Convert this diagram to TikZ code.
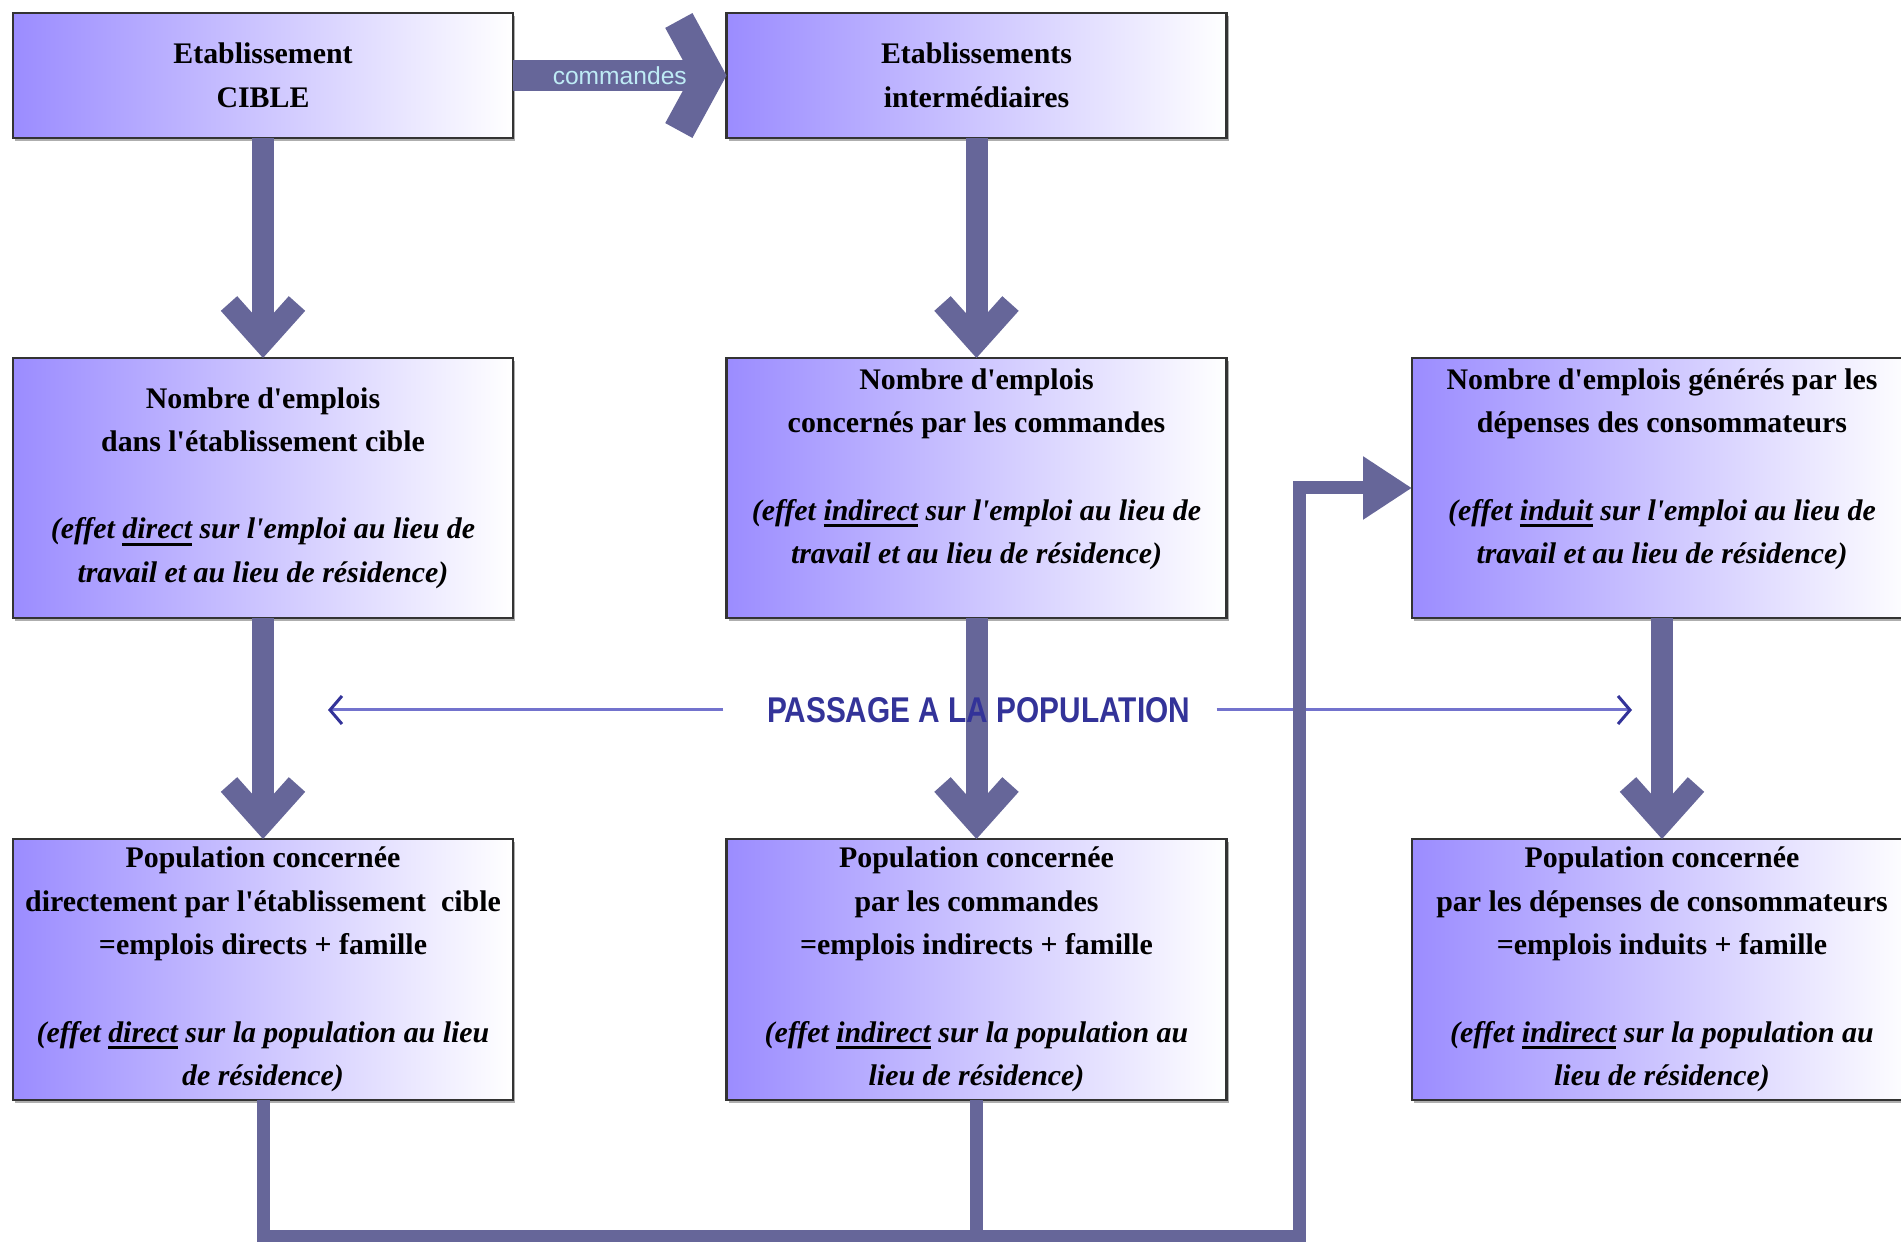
\documentclass[tikz,border=0pt]{standalone}
\usepackage{fontspec}
\usepackage{graphicx}
\setmainfont{Liberation Serif}
\setsansfont{Liberation Sans}
\usetikzlibrary{arrows.meta,shadows}
\definecolor{fleche}{RGB}{102,102,153}
\definecolor{lavande}{RGB}{155,140,255}
\definecolor{bleupass}{RGB}{51,51,153}
\definecolor{lignepass}{RGB}{115,115,205}
\definecolor{cyanclair}{RGB}{190,235,245}
\newsavebox\soulbox
\newcommand\souligne[1]{\sbox\soulbox{#1}\rlap{\rule[-2pt]{\wd\soulbox}{0.9pt}}\usebox\soulbox}
\newcommand\vide{\mbox{}}
\newcommand\apos{\textquotesingle}
\begin{document}
\begin{tikzpicture}
[boite/.style={draw=black!80, line width=0.6pt, left color=lavande, right color=white,
   minimum width=5cm, inner sep=0pt, outer sep=0pt, align=center,
   font=\bfseries\fontsize{8.5}{12.4}\selectfont,
   drop shadow={shadow xshift=0.6pt, shadow yshift=-0.8pt, fill=black!45, opacity=0.7}},
 grosse/.style={draw=fleche, line width=0.22cm, -{Straight Barb[sharp, length=0.38cm, width=0.68cm]}},
 commande/.style={draw=fleche, line width=0.31cm, -{Straight Barb[sharp, length=0.30cm, width=1.10cm]}},
 trait/.style={draw=fleche, line width=0.13cm, line join=miter},
 fine/.style={draw=lignepass, line width=0.03cm, -{Straight Barb[length=0.12cm, width=0.28cm, color=bleupass]}}]
\path[use as bounding box] (0,0) rectangle (19.01,-12.42);
\clip (0,0) rectangle (19.01,-12.42);
%% rangee 1
\node[boite, minimum height=1.25cm] (cible)  at (2.63, -0.755) {Etablissement\\CIBLE};
\node[boite, minimum height=1.25cm] (interm) at (9.765,-0.755) {Etablissements\\interm\'ediaires};
%% rangee 2
\node[boite, minimum height=2.6cm] (emplDir) at (2.63, -4.88)
  {Nombre d\apos emplois\\dans l\apos\'etablissement cible\\ \vide\\
   \textit{(effet \souligne{direct} sur l\apos emploi au lieu de}\\
   \textit{travail et au lieu de r\'esidence)}};
\node[boite, minimum height=2.6cm] (emplInd) at (9.765,-4.88)
  {Nombre d\apos emplois\\concern\'es par les commandes\\ \vide\\
   \textit{(effet \souligne{indirect} sur l\apos emploi au lieu de}\\
   \textit{travail et au lieu de r\'esidence)}\\ \vide};
\node[boite, minimum height=2.6cm] (emplInduit) at (16.62,-4.88)
  {Nombre d\apos emplois g\'en\'er\'es par les\\d\'epenses des consommateurs\\ \vide\\
   \textit{(effet \souligne{induit} sur l\apos emploi au lieu de}\\
   \textit{travail et au lieu de r\'esidence)}\\ \vide};
%% rangee 3
\node[boite, minimum height=2.61cm] (popDir) at (2.63, -9.695)
  {Population concern\'ee\\directement par l\apos\'etablissement~ cible\\=emplois directs + famille\\ \vide\\
   \textit{(effet \souligne{direct} sur la population au lieu}\\
   \textit{de r\'esidence)}};
\node[boite, minimum height=2.61cm] (popInd) at (9.765,-9.695)
  {Population concern\'ee\\par les commandes\\=emplois indirects + famille\\ \vide\\
   \textit{(effet \souligne{indirect} sur la population au}\\
   \textit{lieu de r\'esidence)}};
\node[boite, minimum height=2.61cm] (popInduit) at (16.62,-9.695)
  {Population concern\'ee\\par les d\'epenses de consommateurs\\=emplois induits + famille\\ \vide\\
   \textit{(effet \souligne{indirect} sur la population au}\\
   \textit{lieu de r\'esidence)}};
%% fleches
\draw[commande] (cible.east) -- (interm.west)
  node[midway, text=cyanclair, font=\sffamily\fontsize{7}{8}\selectfont] (lblCmd) {commandes};
\draw[grosse] (cible.south)      -- (emplDir.north);
\draw[grosse] (interm.south)     -- (emplInd.north);
\draw[grosse] (emplDir.south)    -- (popDir.north);
\draw[grosse] (emplInd.south)    -- (popInd.north);
\draw[grosse] (emplInduit.south) -- (popInduit.north);
%% passage
\node[text=bleupass, inner sep=0pt] (passage) at (9.785,-7.10)
  {\resizebox{4.23cm}{0.25cm}{\sffamily\bfseries PASSAGE A LA POPULATION}};
\coordinate (passG) at (3.28,-7.10);
\coordinate (passD) at (16.32,-7.10);
\draw[fine, shorten <=0.43cm] (passage.west) -- (passG);
\draw[fine, shorten <=0.26cm] (passage.east) -- (passD);
%% retour
\coordinate (coinG) at (2.63,-12.37);
\coordinate (coinD) at (12.99,-12.37);
\draw[trait, -{Triangle[length=0.49cm, width=0.6cm]}] (popDir.south) -- (coinG) -- (coinD) |- (emplInduit.west);
\draw[trait] (popInd.south) -- (popInd.south |- coinD);
\end{tikzpicture}
\end{document}
